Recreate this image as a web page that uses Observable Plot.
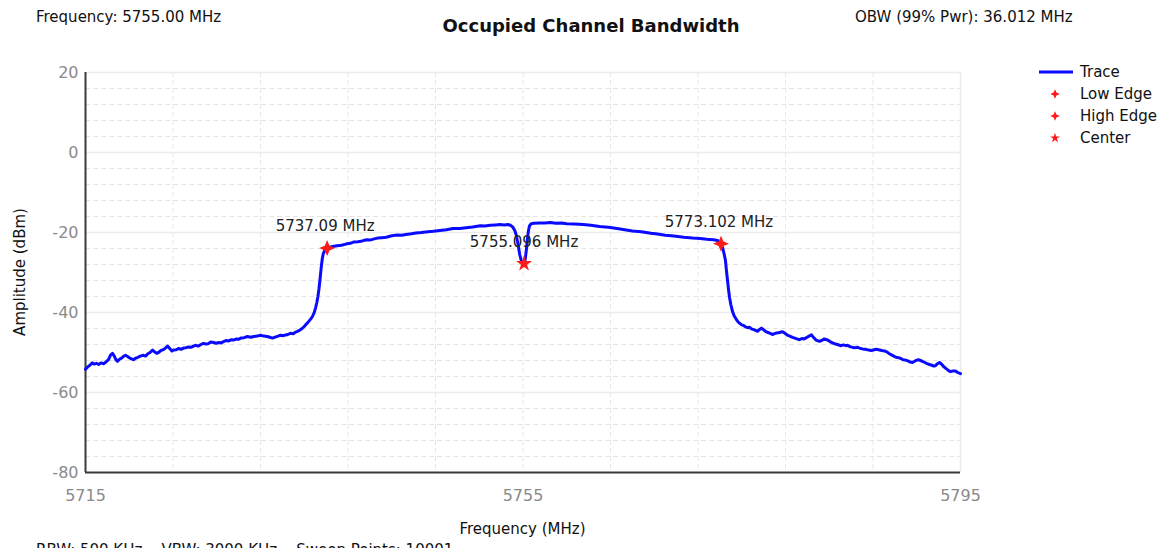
<!DOCTYPE html>
<html><head><meta charset="utf-8">
<script src="https://cdn.jsdelivr.net/npm/d3@7"></script>
<script src="https://cdn.jsdelivr.net/npm/@observablehq/plot@0.6"></script>
<style>
body{margin:0;background:#fff;font-family:"DejaVu Sans",Arial,sans-serif;}
#wrap{position:relative;width:1169px;height:548px;overflow:hidden;}
#wrap svg{position:absolute;left:0;top:0;}
.abs{position:absolute;white-space:pre;color:#111;line-height:1;}
.leg{position:absolute;left:1038px;font-size:15px;color:#111;}
.leg div{position:relative;height:22px;line-height:22px;padding-left:42px;}
.leg svg{position:absolute;left:0;top:0;}
</style></head><body><div id="wrap"></div>
<script>
// ---- data: [frequency MHz, amplitude dBm] ----
const leftSkirt = [
 [5715.0,-54.2],[5715.2,-53.6],[5715.4,-53.2],[5715.6,-52.6],[5715.8,-52.9],[5716.0,-52.7],[5716.2,-53.0],[5716.4,-52.6],
 [5716.65,-52.8],[5716.9,-52.3],[5717.1,-51.8],[5717.3,-50.6],[5717.47,-50.2],[5717.65,-51.0],[5717.8,-51.9],[5717.93,-52.2],
 [5718.1,-51.7],[5718.3,-51.4],[5718.5,-50.9],[5718.66,-50.7],[5718.85,-51.0],[5719.0,-51.3],[5719.2,-51.6],[5719.39,-51.8],
 [5719.6,-51.4],[5719.8,-51.2],[5720.0,-50.9],[5720.3,-50.7],[5720.5,-50.9],[5720.7,-50.3],[5720.9,-50.0],[5721.13,-49.4],
 [5721.35,-49.9],[5721.5,-50.2],[5721.67,-50.0],[5721.9,-49.5],[5722.1,-49.3],[5722.3,-48.9],[5722.5,-48.4],[5722.7,-49.0],
 [5722.9,-49.6],[5723.05,-49.4],[5723.3,-49.3],[5723.5,-49.0],[5723.75,-49.2],[5723.96,-48.9],[5724.2,-48.8],[5724.4,-48.6],
 [5724.65,-48.7],[5724.87,-48.4],[5725.1,-48.2],[5725.3,-48.4],[5725.55,-48.0],[5725.79,-47.7],[5726.0,-47.9],[5726.2,-47.8],
 [5726.45,-47.4],[5726.7,-47.5],[5726.95,-47.7],[5727.2,-47.5],[5727.4,-47.6],[5727.62,-47.3],[5727.85,-47.0],[5728.1,-47.1],
 [5728.3,-46.8],[5728.53,-46.9],[5728.8,-46.6],[5729.0,-46.7],[5729.2,-46.4],[5729.5,-46.3],[5729.81,-46.0],[5730.1,-46.2],
 [5730.4,-46.0],[5730.7,-45.9],[5731.0,-45.7],[5731.3,-45.9],[5731.6,-46.0],[5731.85,-46.2],[5732.1,-46.4],[5732.4,-46.1],
 [5732.6,-45.9],[5732.83,-45.7],[5733.1,-45.8],[5733.3,-45.6],[5733.5,-45.5],[5733.74,-45.2],[5734.0,-45.3],[5734.2,-44.9],
 [5734.38,-44.7],[5734.6,-44.4],[5734.8,-44.0],[5735.0,-43.5],[5735.15,-43.0],[5735.3,-42.6],[5735.45,-42.1],[5735.6,-41.6],
 [5735.75,-41.0],[5735.9,-40.1],[5736.03,-38.9],[5736.15,-37.5],[5736.25,-36.0],[5736.35,-34.0],[5736.45,-31.5],[5736.55,-28.8],
 [5736.65,-26.5],[5736.75,-25.2],[5736.9,-24.4]
];
const passband = [
 [5737.09,-23.9],[5737.3,-23.7],[5737.6,-23.5],[5738.0,-23.3],[5738.4,-23.2],[5738.8,-22.9],[5739.2,-22.7],[5739.5,-22.4],
 [5739.9,-22.3],[5740.3,-22.1],[5740.7,-21.8],[5741.0,-21.9],[5741.4,-21.6],[5741.7,-21.4],[5742.1,-21.3],[5742.5,-21.2],
 [5743.0,-20.8],[5743.5,-20.6],[5743.9,-20.7],[5744.3,-20.5],[5744.8,-20.3],[5745.2,-20.1],[5745.7,-20.0],[5746.3,-19.8],
 [5746.8,-19.7],[5747.4,-19.5],[5748.0,-19.3],[5748.6,-19.0],[5749.2,-19.0],[5749.8,-18.8],[5750.4,-18.6],[5751.1,-18.3],
 [5751.5,-18.4],[5752.0,-18.2],[5752.5,-18.1],[5752.9,-18.0],[5753.3,-18.1],[5753.6,-18.0],[5753.85,-18.2],[5754.05,-18.6],
 [5754.25,-19.5],[5754.4,-20.8],[5754.55,-23.0],[5754.7,-25.5],[5754.85,-27.1],[5755.0,-27.7],[5755.096,-27.8],[5755.2,-26.8],
 [5755.3,-24.5],[5755.4,-21.8],[5755.5,-19.5],[5755.6,-18.3],[5755.75,-17.8],[5756.0,-17.7],[5756.5,-17.6],[5757.0,-17.6],
 [5757.5,-17.5],[5758.0,-17.7],[5758.5,-17.6],[5759.0,-17.8],[5759.7,-17.9],[5760.5,-18.0],[5761.2,-18.2],[5762.0,-18.5],
 [5762.8,-18.7],[5763.6,-19.0],[5764.3,-19.3],[5765.0,-19.6],[5765.8,-19.8],[5766.7,-20.2],[5767.3,-20.4],[5768.0,-20.7],
 [5768.8,-20.9],[5769.7,-21.2],[5770.5,-21.4],[5771.2,-21.5],[5771.8,-21.7],[5772.4,-21.8],[5772.8,-22.0],[5773.102,-22.8]
];
const rightSkirt = [
 [5773.25,-23.8],[5773.4,-25.5],[5773.51,-27.0],[5773.6,-29.5],[5773.7,-32.0],[5773.8,-34.5],[5773.88,-36.2],[5774.0,-38.0],
 [5774.15,-39.7],[5774.3,-40.8],[5774.5,-41.7],[5774.65,-42.3],[5774.8,-42.7],[5775.0,-43.1],[5775.2,-43.3],[5775.34,-43.6],
 [5775.55,-43.8],[5775.7,-43.7],[5775.89,-44.1],[5776.1,-44.3],[5776.3,-44.5],[5776.44,-44.7],[5776.6,-44.3],[5776.8,-43.9],
 [5776.99,-44.3],[5777.2,-44.8],[5777.4,-45.0],[5777.6,-45.2],[5777.8,-45.5],[5778.0,-45.3],[5778.2,-45.1],[5778.45,-45.0],
 [5778.7,-44.8],[5778.85,-45.0],[5779.0,-45.3],[5779.2,-45.7],[5779.4,-45.9],[5779.64,-46.2],[5779.85,-46.4],[5780.05,-46.6],
 [5780.28,-46.8],[5780.5,-46.5],[5780.7,-46.6],[5780.92,-46.3],[5781.15,-45.9],[5781.38,-45.6],[5781.55,-46.2],[5781.8,-46.9],
 [5782.1,-47.2],[5782.3,-47.0],[5782.55,-46.6],[5782.75,-46.8],[5782.93,-47.0],[5783.2,-47.5],[5783.48,-47.8],[5783.75,-48.0],
 [5784.03,-48.3],[5784.3,-48.1],[5784.5,-48.3],[5784.67,-48.2],[5784.95,-48.6],[5785.3,-48.8],[5785.6,-48.7],[5785.85,-49.0],
 [5786.04,-49.1],[5786.3,-49.2],[5786.6,-49.4],[5786.86,-49.5],[5787.1,-49.3],[5787.3,-49.2],[5787.5,-49.3],[5787.8,-49.5],
 [5788.05,-49.6],[5788.3,-49.9],[5788.5,-50.3],[5788.69,-50.6],[5788.9,-50.9],[5789.1,-51.2],[5789.33,-51.3],[5789.55,-51.5],
 [5789.75,-51.8],[5789.97,-51.9],[5790.2,-52.1],[5790.4,-52.4],[5790.61,-52.5],[5790.8,-52.2],[5791.0,-51.9],[5791.15,-51.8],
 [5791.35,-52.0],[5791.52,-52.2],[5791.75,-52.5],[5791.95,-52.8],[5792.16,-53.0],[5792.4,-53.2],[5792.55,-53.4],[5792.71,-53.3],
 [5792.9,-52.8],[5793.08,-52.5],[5793.3,-53.0],[5793.45,-53.5],[5793.63,-53.9],[5793.85,-54.4],[5794.09,-54.8],[5794.3,-54.6],
 [5794.54,-54.6],[5794.75,-55.0],[5795.0,-55.3]
];
const edgeFreqs = [5737.09, 5773.102];
const edgeAmps = [-23.9, -22.8];
const edgeLabels = ["5737.09 MHz", "5773.102 MHz"];
const centerFreq = [5755.096];
const centerAmp = [-27.8];
const centerLabels = ["5755.096 MHz"];
const xTicks = [5715, 5755, 5795];
const yTicks = [20, 0, -20, -40, -60, -80];
const yMinor = [16, 12, 8, 4, -4, -8, -12, -16, -24, -28, -32, -36, -44, -48, -52, -56, -64, -68, -72, -76];
const yMajor = [20, 0, -20, -40, -60];
const xGrid = [5723, 5731, 5739, 5747, 5755, 5763, 5771, 5779, 5787];

const trace = [...leftSkirt, ...passband, ...rightSkirt].map(([f, a]) => ({f, a}));
const edges = edgeFreqs.map((f, i) => ({f, a: edgeAmps[i], t: edgeLabels[i]}));
const centers = centerFreq.map((f, i) => ({f, a: centerAmp[i], t: centerLabels[i]}));

const star4 = {draw(ctx, size) {
  const r = Math.sqrt(size) * 0.75, ri = r * 0.42;
  for (let k = 0; k < 8; k++) {
    const ang = -Math.PI / 2 + k * Math.PI / 4, rr = k % 2 ? ri : r;
    const x = rr * Math.cos(ang), y = rr * Math.sin(ang);
    k ? ctx.lineTo(x, y) : ctx.moveTo(x, y);
  }
  ctx.closePath();
}};

const chart = Plot.plot({
  width: 1169, height: 548,
  marginLeft: 85, marginRight: 209, marginTop: 72, marginBottom: 76,
  style: {fontFamily: "'DejaVu Sans', Arial, sans-serif", fontSize: "16px", background: "transparent", overflow: "visible"},
  x: {domain: [5715, 5795]},
  y: {domain: [-80, 20]},
  marks: [
    Plot.ruleY(yMinor, {stroke: "#e4e4e4", strokeDasharray: "5,3", strokeWidth: 1}),
    Plot.ruleY(yMajor, {stroke: "#ececec", strokeWidth: 1.5}),
    Plot.ruleX(xGrid, {stroke: "#e8e8e8", strokeDasharray: "5,3", strokeWidth: 1}),
    Plot.ruleX([5795], {stroke: "#ececec", strokeWidth: 1.5}),
    Plot.ruleX([5715], {stroke: "#3a3a3a", strokeWidth: 2}),
    Plot.ruleY([-80], {stroke: "#3a3a3a", strokeWidth: 2}),
    Plot.axisX({ticks: xTicks, tickSize: 0, tickPadding: 17, tickFormat: d => String(d), fontSize: 16, color: "#8a8a8a", label: null}),
    Plot.axisY({ticks: yTicks, tickSize: 0, tickPadding: 7, tickFormat: d => String(d), fontSize: 16, color: "#8a8a8a", label: null}),
    Plot.line(trace, {x: "f", y: "a", stroke: "#0a0aff", strokeWidth: 3, strokeLinejoin: "round"}),
    Plot.dot(edges, {x: "f", y: "a", symbol: star4, r: 6, fill: "#ff1a1a", stroke: "none"}),
    Plot.dot(centers, {x: "f", y: "a", symbol: "star", r: 5, fill: "#ff1a1a", stroke: "none"}),
    Plot.text(edges, {x: "f", y: "a", text: "t", dy: -22, dx: -2, fontSize: 15, fill: "#222"}),
    Plot.text(centers, {x: "f", y: "a", text: "t", dy: -22, fontSize: 15, fill: "#222"})
  ]
});
const wrap = document.getElementById("wrap");
wrap.appendChild(chart);

function addText(txt, css) {
  const d = document.createElement("div");
  d.className = "abs"; d.textContent = txt; d.style.cssText += css; wrap.appendChild(d);
  return d;
}
addText("Frequency: 5755.00 MHz", "left:36px;top:10px;font-size:15px;");
addText("Occupied Channel Bandwidth", "left:0;width:1182px;text-align:center;top:17px;font-size:18px;font-weight:bold;");
addText("OBW (99% Pwr): 36.012 MHz", "left:855px;top:10px;font-size:15px;");
addText("Frequency (MHz)", "left:85px;width:875px;text-align:center;top:522px;font-size:15px;");
addText("RBW: 500 KHz    VBW: 3000 KHz    Sweep Points: 10001", "left:36px;top:543px;font-size:15px;");
addText("Amplitude (dBm)", "left:20px;top:272px;font-size:15px;transform:translate(-50%,-50%) rotate(-90deg);");

// legend
const leg = document.createElement("div");
leg.className = "leg"; leg.style.top = "61px";
const sym4 = d3.symbol(star4, 40)(), sym5 = d3.symbol(d3.symbolStar, 30)();
leg.innerHTML =
  `<div><svg width="36" height="22"><line x1="1" x2="35" y1="11" y2="11" stroke="#0a0aff" stroke-width="3"/></svg>Trace</div>` +
  `<div><svg width="36" height="22"><path transform="translate(17,11)" d="${sym4}" fill="#ff1a1a"/></svg>Low Edge</div>` +
  `<div><svg width="36" height="22"><path transform="translate(17,11)" d="${sym4}" fill="#ff1a1a"/></svg>High Edge</div>` +
  `<div><svg width="36" height="22"><path transform="translate(17,11)" d="${sym5}" fill="#ff1a1a"/></svg>Center</div>`;
wrap.appendChild(leg);
</script></body></html>
